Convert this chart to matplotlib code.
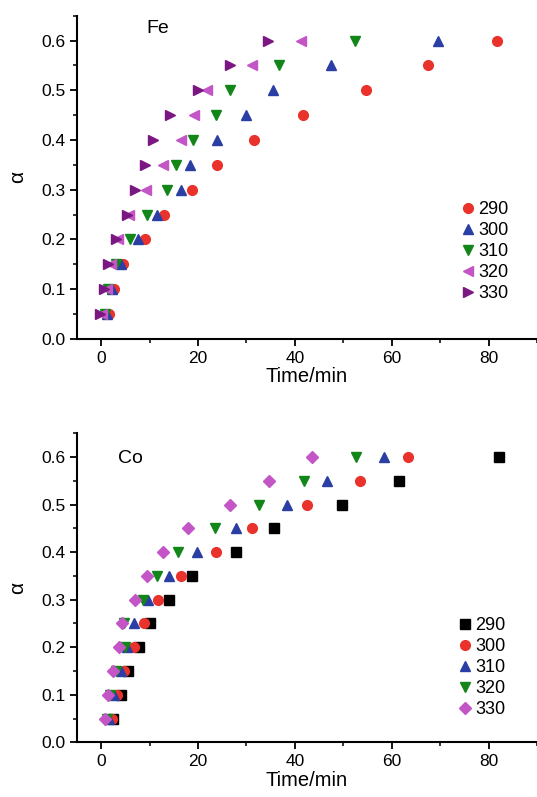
import numpy as np
import matplotlib.pyplot as plt
from matplotlib.ticker import MultipleLocator

plt.rcParams['font.family'] = ['Liberation Sans', 'DejaVu Sans']

# conversion levels (same for every series)
alpha = [0.05, 0.10, 0.15, 0.20, 0.25, 0.30, 0.35, 0.40, 0.45, 0.50, 0.55, 0.60]
temps = ['290', '300', '310', '320', '330']

# Fe: time (min) to reach each alpha
fe_290 = [1.6, 2.6, 4.6, 9.0, 12.9, 18.7, 24.0, 31.5, 41.6, 54.6, 67.5, 81.8]
fe_300 = [1.1, 2.2, 4.0, 7.5, 11.6, 16.4, 18.3, 24.0, 29.8, 35.4, 47.4, 69.6]
fe_310 = [0.7, 1.4, 3.0, 5.9, 9.4, 13.6, 15.5, 19.0, 23.8, 26.6, 36.7, 52.4]
fe_320 = [0.2, 1.1, 2.0, 3.5, 5.7, 9.2, 12.8, 16.4, 19.1, 21.9, 31.2, 41.3]
fe_330 = [-0.2, 0.5, 1.3, 3.0, 5.3, 7.0, 9.0, 10.6, 14.3, 20.0, 26.6, 34.5]

# Co: time (min) to reach each alpha
co_290 = [2.5, 4.1, 5.6, 7.9, 10.1, 13.9, 18.7, 27.9, 35.6, 49.7, 61.6, 82.2]
co_300 = [2.2, 3.2, 4.8, 6.7, 8.9, 11.8, 16.5, 23.8, 31.2, 42.4, 53.5, 63.3]
co_310 = [1.7, 2.7, 4.1, 5.3, 6.8, 9.6, 13.9, 19.8, 27.9, 38.4, 46.6, 58.3]
co_320 = [1.2, 1.9, 3.1, 5.0, 4.8, 8.7, 11.6, 15.9, 23.6, 32.5, 41.8, 52.7]
co_330 = [0.8, 1.5, 2.5, 3.6, 4.3, 6.9, 9.4, 12.7, 18.0, 26.5, 34.6, 43.5]

RED = '#e8322b'
BLUE = '#2b3ea3'
GREEN = '#13861a'
PINK = '#c355c6'
PURPLE = '#7b1783'

fe_series = [(fe_290, 'o', RED), (fe_300, '^', BLUE), (fe_310, 'v', GREEN),
             (fe_320, '<', PINK), (fe_330, '>', PURPLE)]
co_series = [(co_290, 's', 'black'), (co_300, 'o', RED), (co_310, '^', BLUE),
             (co_320, 'v', GREEN), (co_330, 'D', PINK)]


def style_axes(ax):
    ax.set_xlim(-5, 90)
    ax.set_ylim(0, 0.65)
    ax.xaxis.set_major_locator(MultipleLocator(20))
    ax.xaxis.set_minor_locator(MultipleLocator(10))
    ax.yaxis.set_major_locator(MultipleLocator(0.1))
    ax.yaxis.set_minor_locator(MultipleLocator(0.05))
    ax.yaxis.set_major_formatter(plt.FormatStrFormatter('%.1f'))
    for s in ['top', 'right']:
        ax.spines[s].set_visible(False)
    for s in ['left', 'bottom']:
        ax.spines[s].set_linewidth(1.5)
    ax.tick_params(which='major', direction='out', length=5, width=1.3, labelsize=12.5)
    ax.tick_params(which='minor', direction='out', length=3, width=1.1)
    ax.set_xlabel('Time/min', fontsize=14.5, labelpad=1)
    ax.set_ylabel('α', fontsize=15, labelpad=10)


def draw_panel(ax, series, name, name_xy, leg_xy):
    for (vals, m, c), lab in zip(series, temps):
        ms = 7 if m in ('o', 's') else (6 if m == 'D' else 7.5)
        ax.plot(vals, alpha, linestyle='none', marker=m, color=c,
                markersize=ms, label=lab)
    style_axes(ax)
    ax.text(name_xy[0], name_xy[1], name, fontsize=14, ha='center', va='center')
    ax.legend(loc='upper left', bbox_to_anchor=leg_xy, frameon=False,
              fontsize=13, handlelength=0.8, handletextpad=0.15,
              labelspacing=0.22, borderpad=0, borderaxespad=0)


fig = plt.figure(figsize=(5.37, 7.97), dpi=100)
ax1 = fig.add_axes([0.1434, 0.5747, 0.8566, 0.4056])
ax2 = fig.add_axes([0.1434, 0.0686, 0.8566, 0.3877])

draw_panel(ax1, fe_series, 'Fe', (11.6, 0.624), (0.835, 0.427))
draw_panel(ax2, co_series, 'Co', (6.0, 0.596), (0.828, 0.405))

fig.savefig('out.png', dpi=100)
